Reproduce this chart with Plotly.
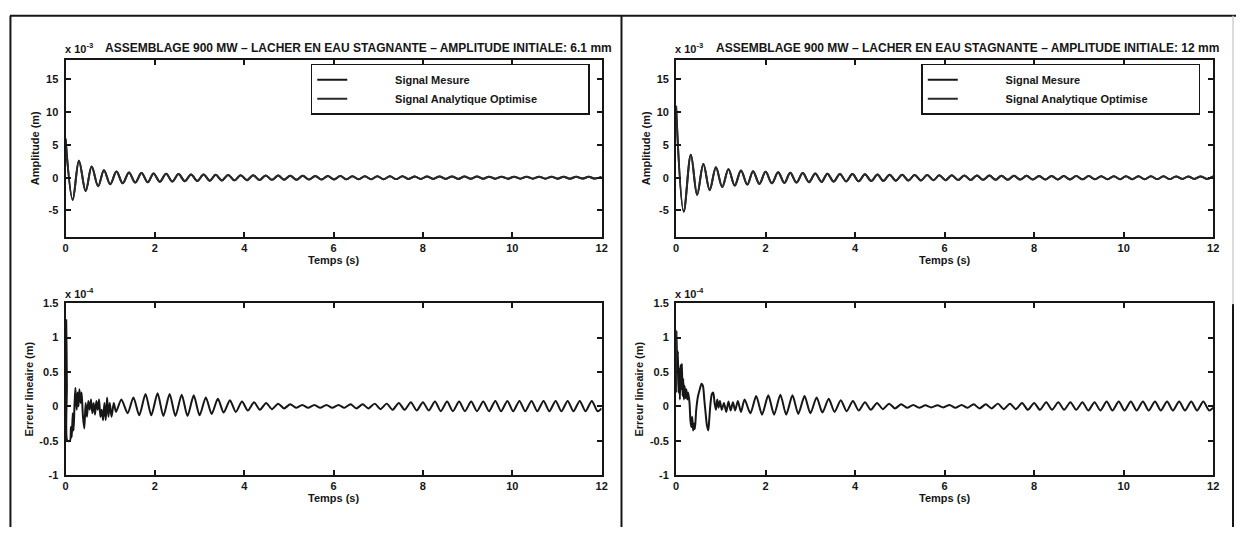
import plotly.graph_objects as go

# ---------------- DATA ----------------
# Amplitudes are in units of 1e-3 m, errors in units of 1e-4 m (MATLAB "x 10^n" labels)
temps_extrema_gauche = [
    0.00, 0.16, 0.30, 0.45, 0.585, 0.73, 0.86, 1.00, 1.14, 1.28,
    1.42, 1.56, 1.70, 1.84, 1.97, 2.11, 2.25, 2.39, 2.53, 2.67,
    2.81, 2.95, 3.09, 3.23, 3.36, 3.50, 3.64, 3.78, 3.92, 4.06,
    4.20, 4.34, 4.48, 4.62, 4.76, 4.89, 5.03, 5.17, 5.31, 5.45,
    5.59, 5.73, 5.87, 6.01, 6.15, 6.29, 6.42, 6.56, 6.70, 6.84,
    6.98, 7.12, 7.26, 7.40, 7.54, 7.68, 7.82, 7.95, 8.09, 8.23,
    8.37, 8.51, 8.65, 8.79, 8.93, 9.07, 9.21, 9.35, 9.48, 9.62,
    9.76, 9.90, 10.04, 10.18, 10.32, 10.46, 10.60, 10.74, 10.88, 11.01,
    11.15, 11.29, 11.43, 11.57, 11.71, 11.85, 12.00]
signal_mesure_gauche = [
    6.0, -3.4, 2.6, -2.05, 1.7, -1.3, 1.15, -1.0, 0.95, -0.85,
    0.8, -0.75, 0.72, -0.7, 0.66, -0.62, 0.6, -0.58, 0.55, -0.53,
    0.5, -0.5, 0.48, -0.46, 0.44, -0.42, 0.42, -0.4, 0.38, -0.37,
    0.36, -0.35, 0.34, -0.33, 0.32, -0.31, 0.3, -0.3, 0.29, -0.28,
    0.28, -0.27, 0.26, -0.26, 0.25, -0.25, 0.24, -0.24, 0.23, -0.23,
    0.22, -0.22, 0.21, -0.21, 0.21, -0.2, 0.2, -0.2, 0.19, -0.19,
    0.19, -0.18, 0.18, -0.18, 0.17, -0.17, 0.17, -0.17, 0.16, -0.16,
    0.16, -0.16, 0.15, -0.15, 0.15, -0.15, 0.15, -0.14, 0.14, -0.14,
    0.14, -0.14, 0.14, -0.13, 0.13, -0.13, 0.13]
signal_analytique_gauche = [
    5.8, -3.35, 2.6, -2.0, 1.7, -1.3, 1.15, -1.0, 0.94, -0.85,
    0.8, -0.75, 0.71, -0.69, 0.66, -0.62, 0.6, -0.58, 0.55, -0.53,
    0.5, -0.5, 0.48, -0.46, 0.44, -0.42, 0.42, -0.4, 0.38, -0.37,
    0.36, -0.35, 0.34, -0.33, 0.32, -0.31, 0.3, -0.3, 0.29, -0.28,
    0.28, -0.27, 0.26, -0.26, 0.25, -0.25, 0.24, -0.24, 0.23, -0.23,
    0.22, -0.22, 0.21, -0.21, 0.21, -0.2, 0.2, -0.2, 0.19, -0.19,
    0.19, -0.18, 0.18, -0.18, 0.17, -0.17, 0.17, -0.17, 0.16, -0.16,
    0.16, -0.16, 0.15, -0.15, 0.15, -0.15, 0.15, -0.14, 0.14, -0.14,
    0.14, -0.14, 0.14, -0.13, 0.13, -0.13, 0.13]

temps_extrema_droite = [
    0.00, 0.17, 0.33, 0.47, 0.61, 0.75, 0.89, 1.03, 1.17, 1.31,
    1.45, 1.59, 1.72, 1.86, 2.00, 2.14, 2.28, 2.42, 2.55, 2.69,
    2.83, 2.97, 3.11, 3.25, 3.38, 3.52, 3.66, 3.80, 3.94, 4.08,
    4.22, 4.36, 4.50, 4.63, 4.77, 4.91, 5.05, 5.19, 5.33, 5.47,
    5.61, 5.75, 5.88, 6.02, 6.16, 6.30, 6.44, 6.58, 6.72, 6.86,
    7.00, 7.14, 7.27, 7.41, 7.55, 7.69, 7.83, 7.97, 8.11, 8.25,
    8.39, 8.53, 8.66, 8.80, 8.94, 9.08, 9.22, 9.36, 9.50, 9.64,
    9.78, 9.92, 10.05, 10.19, 10.33, 10.47, 10.61, 10.75, 10.89, 11.03,
    11.17, 11.31, 11.44, 11.58, 11.72, 11.86, 12.00]
signal_mesure_droite = [
    11.0, -5.2, 3.5, -2.6, 2.1, -1.9, 1.6, -1.4, 1.3, -1.2,
    1.1, -1.05, 1.0, -0.95, 0.9, -0.85, 0.82, -0.8, 0.76, -0.74,
    0.7, -0.68, 0.66, -0.64, 0.62, -0.6, 0.58, -0.56, 0.55, -0.53,
    0.52, -0.5, 0.49, -0.48, 0.46, -0.45, 0.44, -0.43, 0.42, -0.41,
    0.4, -0.39, 0.38, -0.37, 0.36, -0.36, 0.35, -0.34, 0.33, -0.33,
    0.32, -0.32, 0.31, -0.3, 0.3, -0.29, 0.29, -0.28, 0.28, -0.27,
    0.27, -0.27, 0.26, -0.26, 0.25, -0.25, 0.25, -0.24, 0.24, -0.24,
    0.23, -0.23, 0.23, -0.22, 0.22, -0.22, 0.21, -0.21, 0.21, -0.21,
    0.2, -0.2, 0.2, -0.2, 0.2, -0.19, 0.19]
signal_analytique_droite = [
    10.6, -5.1, 3.5, -2.6, 2.1, -1.85, 1.6, -1.4, 1.3, -1.2,
    1.1, -1.05, 1.0, -0.95, 0.9, -0.85, 0.82, -0.8, 0.76, -0.74,
    0.7, -0.68, 0.66, -0.64, 0.62, -0.6, 0.58, -0.56, 0.55, -0.53,
    0.52, -0.5, 0.49, -0.48, 0.46, -0.45, 0.44, -0.43, 0.42, -0.41,
    0.4, -0.39, 0.38, -0.37, 0.36, -0.36, 0.35, -0.34, 0.33, -0.33,
    0.32, -0.32, 0.31, -0.3, 0.3, -0.29, 0.29, -0.28, 0.28, -0.27,
    0.27, -0.27, 0.26, -0.26, 0.25, -0.25, 0.25, -0.24, 0.24, -0.24,
    0.23, -0.23, 0.23, -0.22, 0.22, -0.22, 0.21, -0.21, 0.21, -0.21,
    0.2, -0.2, 0.2, -0.2, 0.2, -0.19, 0.19]

# (time s, error x1e-4 m)
points_erreur_gauche = [
    (0.00, 0.0), (0.015, 1.25), (0.03, 0.3), (0.04, -0.5), (0.10, -0.5), (0.12, -0.3),
    (0.14, -0.45), (0.16, -0.1), (0.18, -0.35), (0.20, 0.0), (0.22, 0.27), (0.25, -0.05),
    (0.27, 0.2), (0.29, 0.0), (0.31, 0.25), (0.34, 0.05), (0.36, 0.2), (0.39, -0.15),
    (0.42, -0.32), (0.45, 0.05), (0.48, -0.15), (0.51, 0.08), (0.54, -0.05), (0.57, 0.1),
    (0.60, -0.1), (0.63, 0.05), (0.66, -0.12), (0.69, 0.08), (0.72, -0.05), (0.75, 0.1),
    (0.78, -0.15), (0.81, -0.05), (0.84, -0.2), (0.87, 0.05), (0.90, -0.2), (0.93, 0.13),
    (0.96, -0.15), (0.99, 0.05), (1.03, -0.15), (1.08, 0.05), (1.13, -0.08),
    (1.25, 0.1), (1.39, -0.1), (1.52, 0.13), (1.65, -0.13), (1.79, 0.18), (1.92, -0.13),
    (2.06, 0.19), (2.19, -0.14), (2.33, 0.18), (2.46, -0.14), (2.60, 0.17), (2.73, -0.14),
    (2.87, 0.16), (3.00, -0.13), (3.14, 0.13), (3.27, -0.11), (3.41, 0.11), (3.54, -0.09),
    (3.68, 0.09), (3.81, -0.08), (3.95, 0.07), (4.08, -0.06), (4.22, 0.06), (4.35, -0.05),
    (4.49, 0.05), (4.62, -0.04), (4.76, 0.04), (4.89, -0.03), (5.03, 0.03), (5.16, -0.02),
    (5.30, 0.02), (5.43, -0.02), (5.57, 0.02), (5.70, -0.02), (5.84, 0.02), (5.97, -0.02),
    (6.11, 0.02), (6.24, -0.02), (6.38, 0.03), (6.51, -0.03), (6.65, 0.03), (6.78, -0.03),
    (6.92, 0.04), (7.05, -0.04), (7.19, 0.04), (7.32, -0.05), (7.46, 0.05), (7.59, -0.05),
    (7.73, 0.06), (7.86, -0.06), (8.00, 0.06), (8.13, -0.06), (8.27, 0.07), (8.40, -0.07),
    (8.54, 0.07), (8.67, -0.07), (8.81, 0.07), (8.94, -0.07), (9.08, 0.07), (9.21, -0.07),
    (9.35, 0.07), (9.48, -0.07), (9.62, 0.08), (9.75, -0.07), (9.89, 0.08), (10.02, -0.07),
    (10.16, 0.08), (10.29, -0.07), (10.43, 0.08), (10.56, -0.07), (10.70, 0.08), (10.83, -0.07),
    (10.97, 0.08), (11.10, -0.07), (11.24, 0.08), (11.37, -0.07), (11.51, 0.08), (11.64, -0.07),
    (11.78, 0.08), (11.91, -0.07), (12.00, -0.03)]

points_erreur_droite = [
    (0.00, 0.2), (0.01, 1.1), (0.025, 0.5), (0.04, 0.8), (0.055, 0.2), (0.07, 0.55),
    (0.085, 0.1), (0.10, 0.6), (0.115, 0.25), (0.13, 0.62), (0.145, 0.15), (0.16, 0.4),
    (0.175, 0.1), (0.19, 0.3), (0.21, 0.12), (0.23, 0.25), (0.25, 0.1), (0.27, 0.2),
    (0.30, 0.05), (0.32, -0.2), (0.34, -0.3), (0.36, -0.15), (0.38, -0.35), (0.40, -0.25),
    (0.42, -0.33), (0.45, -0.05), (0.49, 0.15), (0.53, 0.25), (0.57, 0.33), (0.60, 0.3),
    (0.63, 0.1), (0.66, -0.1), (0.69, -0.28), (0.72, -0.35), (0.74, -0.2), (0.77, 0.05),
    (0.80, 0.18), (0.83, 0.2), (0.86, 0.05), (0.89, -0.05), (0.92, 0.1), (0.95, -0.02),
    (0.98, 0.08), (1.02, -0.05), (1.07, 0.05), (1.12, -0.08), (1.17, 0.07), (1.22, -0.06),
    (1.27, 0.06), (1.32, -0.06), (1.38, 0.08), (1.45, -0.08),
    (1.53, 0.1), (1.66, -0.1), (1.79, 0.15), (1.92, -0.12), (2.06, 0.16), (2.19, -0.12),
    (2.33, 0.17), (2.46, -0.12), (2.60, 0.16), (2.73, -0.11), (2.87, 0.15), (3.00, -0.1),
    (3.14, 0.13), (3.27, -0.09), (3.41, 0.11), (3.54, -0.08), (3.68, 0.09), (3.81, -0.07),
    (3.95, 0.08), (4.08, -0.06), (4.22, 0.06), (4.35, -0.05), (4.49, 0.05), (4.62, -0.04),
    (4.76, 0.04), (4.89, -0.03), (5.03, 0.03), (5.16, -0.02), (5.30, 0.02), (5.43, -0.02),
    (5.57, 0.015), (5.70, -0.015), (5.84, 0.015), (5.97, -0.015), (6.11, 0.02), (6.24, -0.02),
    (6.38, 0.02), (6.51, -0.02), (6.65, 0.03), (6.78, -0.03), (6.92, 0.03), (7.05, -0.03),
    (7.19, 0.04), (7.32, -0.04), (7.46, 0.04), (7.59, -0.04), (7.73, 0.05), (7.86, -0.05),
    (8.00, 0.05), (8.13, -0.05), (8.27, 0.06), (8.40, -0.05), (8.54, 0.06), (8.67, -0.05),
    (8.81, 0.06), (8.94, -0.05), (9.08, 0.06), (9.21, -0.06), (9.35, 0.06), (9.48, -0.06),
    (9.62, 0.07), (9.75, -0.06), (9.89, 0.07), (10.02, -0.06), (10.16, 0.07), (10.29, -0.06),
    (10.43, 0.07), (10.56, -0.06), (10.70, 0.07), (10.83, -0.06), (10.97, 0.07), (11.10, -0.06),
    (11.24, 0.07), (11.37, -0.06), (11.51, 0.07), (11.64, -0.06), (11.78, 0.07), (11.91, -0.06),
    (12.00, -0.02)]

titres = [
    "ASSEMBLAGE 900 MW – LACHER EN EAU STAGNANTE – AMPLITUDE INITIALE: 6.1 mm",
    "ASSEMBLAGE 900 MW – LACHER EN EAU STAGNANTE – AMPLITUDE INITIALE: 12 mm",
]
noms_series = ["Signal Mesure", "Signal Analytique Optimise"]
x_ticks = [0, 2, 4, 6, 8, 10, 12]
amp_ticks = [-5, 0, 5, 10, 15]
amp_labels = ["-5", "0", "5", "10", "15"]
err_ticks = [-1, -0.5, 0, 0.5, 1, 1.5]
err_labels = ["-1", "-0.5", "0", "0.5", "1", "1.5"]

# ---------------- FIGURE ----------------
W, H = 1242, 533
INK = "#161616"
FONT = "Liberation Sans, Arial, Helvetica, sans-serif"

def px_x(p):
    return p / W

def px_y(p):
    return 1 - p / H

col_x = [(63, 603), (678, 1219)]
row_y = [(55, 236), (304, 480)]

t_err_g = [p[0] for p in points_erreur_gauche]
v_err_g = [p[1] for p in points_erreur_gauche]
t_err_d = [p[0] for p in points_erreur_droite]
v_err_d = [p[1] for p in points_erreur_droite]

fig = go.Figure()

lead = "\u00a0" * 14
tail = "\u00a0" * 15

def add_signal(xa, ya, legend, t, mes, ana):
    fig.add_trace(go.Scatter(x=t, y=mes, xaxis=xa, yaxis=ya, mode="lines",
                             name=lead + noms_series[0], legend=legend,
                             line=dict(color=INK, width=2, shape="spline", smoothing=1.0)))
    fig.add_trace(go.Scatter(x=t, y=ana, xaxis=xa, yaxis=ya, mode="lines",
                             name=lead + noms_series[1] + tail, legend=legend,
                             line=dict(color="#2a2a2a", width=2, shape="spline", smoothing=1.0)))

add_signal("x", "y", "legend", temps_extrema_gauche, signal_mesure_gauche, signal_analytique_gauche)
add_signal("x2", "y2", "legend2", temps_extrema_droite, signal_mesure_droite, signal_analytique_droite)

fig.add_trace(go.Scatter(x=t_err_g, y=v_err_g, xaxis="x3", yaxis="y3", mode="lines",
                         showlegend=False,
                         line=dict(color=INK, width=2, shape="spline", smoothing=0.7)))
fig.add_trace(go.Scatter(x=t_err_d, y=v_err_d, xaxis="x4", yaxis="y4", mode="lines",
                         showlegend=False,
                         line=dict(color=INK, width=2, shape="spline", smoothing=0.7)))

axis_common = dict(showline=True, linecolor=INK, linewidth=2, mirror="allticks",
                   ticks="inside", ticklen=5, tickwidth=1.5, tickcolor=INK,
                   showgrid=False, zeroline=False, tickfont=dict(size=11))

layout = dict(
    width=W, height=H, margin=dict(l=0, r=0, t=0, b=0),
    paper_bgcolor="white", plot_bgcolor="white",
    font=dict(family=FONT, size=11, color=INK, weight="bold"),
    showlegend=True,
)

idx = 1
for r in range(2):
    for c in range(2):
        sfx = "" if idx == 1 else str(idx)
        x0, x1 = col_x[c]
        y0, y1 = row_y[r]
        layout["xaxis" + sfx] = dict(
            axis_common, domain=[px_x(x0), px_x(x1)], anchor="y" + sfx,
            range=[0, 12], tickvals=x_ticks,
            title=dict(text="Temps (s)", standoff=1, font=dict(size=11)))
        if r == 0:
            yv, yl, yr, yt = amp_ticks, amp_labels, [-9, 18], "Amplitude (m)"
        else:
            yv, yl, yr, yt = err_ticks, err_labels, [-1, 1.5], "Erreur lineaire (m)"
        layout["yaxis" + sfx] = dict(
            axis_common, domain=[px_y(y1), px_y(y0)], anchor="x" + sfx,
            range=yr, tickvals=yv, ticktext=yl, ticklabelstandoff=3,
            title=dict(text=yt, standoff=4, font=dict(size=11)))
        idx += 1

legend_common = dict(xanchor="left", yanchor="top", bordercolor=INK, borderwidth=1.5,
                     bgcolor="white", font=dict(size=11), itemwidth=30, tracegroupgap=0)
layout["legend"] = dict(legend_common, x=px_x(310), y=px_y(59))
layout["legend2"] = dict(legend_common, x=px_x(925), y=px_y(59))

annotations = []
for c in range(2):
    x0, x1 = col_x[c]
    # title starts just after the "x 10^-3" multiplier label
    annotations.append(dict(text=titres[c], x=px_x(x0 + 38), y=px_y(43),
                            xref="paper", yref="paper", xanchor="left", yanchor="middle",
                            showarrow=False, font=dict(size=12)))
    annotations.append(dict(text="x 10<sup>-3</sup>", x=px_x(x0 - 3), y=px_y(52),
                            xref="paper", yref="paper", xanchor="left", yanchor="bottom",
                            showarrow=False, font=dict(size=11)))
    annotations.append(dict(text="x 10<sup>-4</sup>", x=px_x(x0 - 3), y=px_y(303),
                            xref="paper", yref="paper", xanchor="left", yanchor="bottom",
                            showarrow=False, font=dict(size=11)))
layout["annotations"] = annotations

frame = dict(type="line", xref="paper", yref="paper", line=dict(color=INK, width=2))
layout["shapes"] = [
    dict(frame, x0=px_x(7), x1=1, y0=px_y(10), y1=px_y(10)),
    dict(frame, x0=px_x(7.5), x1=px_x(7.5), y0=px_y(10), y1=0),
    dict(frame, x0=px_x(623), x1=px_x(623), y0=px_y(10), y1=0),
    dict(type="line", xref="paper", yref="paper", x0=px_x(1239), x1=px_x(1239),
         y0=px_y(10), y1=px_y(305), line=dict(color="#cfcfcf", width=1.5)),
    dict(frame, x0=px_x(1239), x1=px_x(1239), y0=px_y(305), y1=0),
]

fig.update_layout(**layout)
fig.write_html("out.html", config={"displayModeBar": False},
               post_script="document.body.style.margin='0';document.body.style.padding='0';")
